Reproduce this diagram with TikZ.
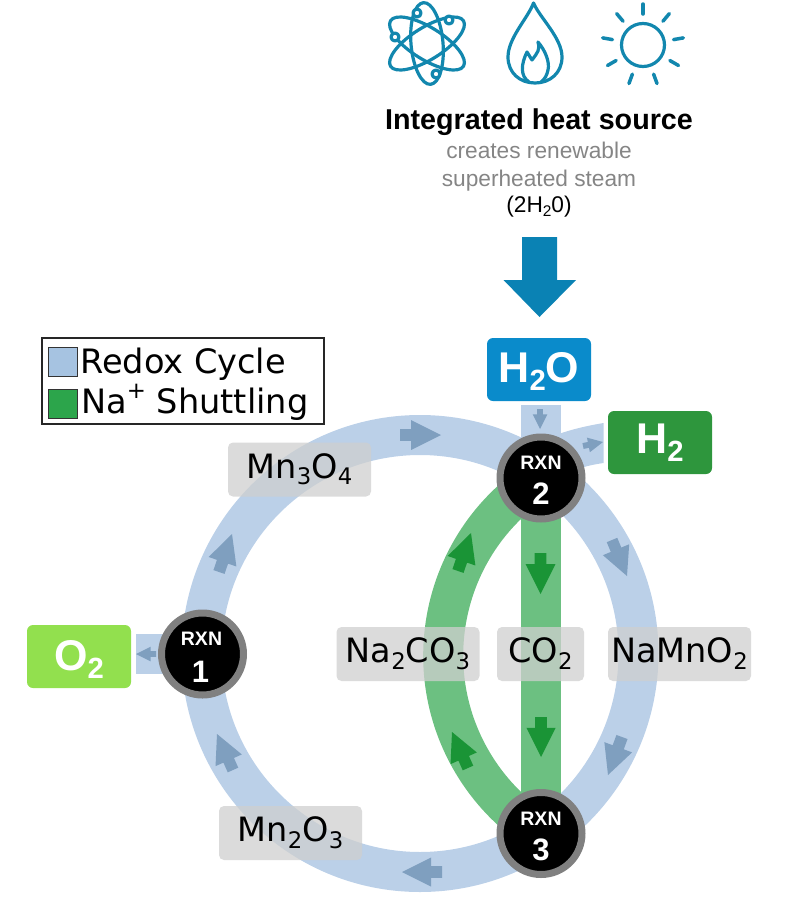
\documentclass[tikz,border=0pt]{standalone}
\usepackage{fontspec}
\setmainfont{Liberation Sans}
\newfontfamily\dejavu{DejaVu Sans}
\usetikzlibrary{calc}
\definecolor{bandblue}{HTML}{BBD0E8}
\definecolor{bandgreen}{HTML}{6CC081}
\definecolor{arrblue}{HTML}{7F9FBF}
\definecolor{arrgreen}{HTML}{1A9436}
\definecolor{icon}{HTML}{1287AE}
\definecolor{bigarrow}{HTML}{0A82B4}
\definecolor{watercol}{HTML}{0A8BCB}
\definecolor{hydrocol}{HTML}{2E963D}
\definecolor{oxycol}{HTML}{92E04E}
\definecolor{lgray}{HTML}{CFCFCF}
\definecolor{swblue}{HTML}{A6C3E1}
\definecolor{swgreen}{HTML}{2CA54B}
\newcommand\dn[1]{\raisebox{-.2em}{\scalebox{.68}{#1}}}
\newcommand\upp[1]{\raisebox{.42em}{\scalebox{.68}{#1}}}
\newcommand\fs[1]{\fontsize{#1}{#1}\selectfont}
% block arrow from tail to tip
\newcommand\blockarrow[3]{%
  \coordinate (ta) at (#1); \coordinate (tb) at (#2);
  \coordinate (tc) at ($(ta)!0.27!(tb)$);
  \fill[#3] ($(ta)!0.146!90:(tb)$) -- ($(tc)!0.2!90:(tb)$) -- ($(tc)!0.5!90:(tb)$) -- (tb)
    -- ($(tc)!0.5!-90:(tb)$) -- ($(tc)!0.2!-90:(tb)$) -- ($(ta)!0.146!-90:(tb)$) -- cycle;}
\tikzset{
  blueband/.style={draw=bandblue,line width=40pt},
  greenband/.style={draw=bandgreen,line width=40pt},
  chem/.style={rounded corners=5pt,fill=lgray,fill opacity=.75,text opacity=1,font=\dejavu\fs{33.5},
    text=black,inner sep=0pt,minimum height=54pt,text height=23pt,text depth=6pt},
  species/.style={rounded corners=6pt,text=white,font=\bfseries\fs{43},inner sep=0pt,
    minimum width=104pt,minimum height=63pt},
  rxn/.style={circle,draw=black!50,fill=black,line width=7pt,minimum size=82pt,inner sep=0pt},
  rxnword/.style={text=white,font=\bfseries\fs{19.5},inner sep=0pt},
  rxnnum/.style={text=white,font=\bfseries\fs{31},inner sep=0pt},
  iconline/.style={draw=icon,line width=3.2pt,line cap=round,line join=round},
  legendtext/.style={font=\dejavu\fs{33.6},anchor=base west,inner sep=0pt},
  swatch/.style={draw=black!80,line width=1.5pt,minimum size=29pt,inner sep=0pt},
  heatgray/.style={text=black!48,font=\fs{22.7},anchor=base,inner sep=0pt},
}
\begin{document}
\begin{tikzpicture}[x=1pt,y=1pt]
\useasboundingbox (0,0) rectangle (790,-900);

\coordinate (ringc) at (420,-653.5);
\coordinate (rxn1c) at (202.5,-654);
\coordinate (rxn2c) at (541,-478);
\coordinate (rxn3c) at (541,-833.5);
\coordinate (h2oc) at (539,-369.5);
\coordinate (h2c) at (660,-442.5);
\coordinate (o2c) at (79,-656.5);

% bands
\draw[blueband] (ringc) circle[radius=218.5pt];
\draw[blueband] (rxn2c) -- (rxn2c |- 0,-405);
\draw[blueband] (rxn1c |- 0,-653.5) -- (136,-653.5);
\fill[bandblue] (535,-445) .. controls (555,-433) and (580,-427) .. (603.5,-423)
  -- (603.5,-463) .. controls (590,-465) and (575,-468) .. (560,-478) -- cycle;
\draw[greenband] (rxn2c) -- (rxn3c);
\draw[greenband] (rxn2c) arc[start angle=122.3,end angle=237.7,radius=210pt];

% flow arrows
\blockarrow{400,-435}{441,-435}{arrblue}
\blockarrow{612,-540}{627,-576}{arrblue}
\blockarrow{622,-737}{608,-775}{arrblue}
\blockarrow{442,-872}{402,-872}{arrblue}
\blockarrow{233,-770}{217,-734}{arrblue}
\blockarrow{219,-572}{232,-534}{arrblue}
\blockarrow{540.5,-553}{540.5,-594}{arrgreen}
\blockarrow{541,-717}{541,-757}{arrgreen}
\blockarrow{458,-571}{471,-533}{arrgreen}
\blockarrow{468,-768}{452,-732}{arrgreen}
\blockarrow{540,-409}{540,-429}{arrblue}
\blockarrow{583,-446}{603,-442}{arrblue}
\blockarrow{156,-654}{136,-654}{arrblue}

% compound labels
\node[chem,minimum width=143pt] (mn3o4) at (299.5,-469.5) {Mn\dn{3}O\dn{4}};
\node[chem,minimum width=143pt] (mn2o3) at (290.5,-833) {Mn\dn{2}O\dn{3}};
\node[chem,minimum width=143pt] (naco) at (408,-654) {Na\dn{2}CO\dn{3}};
\node[chem,minimum width=87pt] (co2) at (540.5,-654) {CO\dn{2}};
\node[chem,minimum width=143pt] (namno) at (679.5,-654) {NaMnO\dn{2}};

% species boxes
\node[species,fill=watercol,text height=32pt,text depth=7pt] (h2o) at (h2oc) {H\dn{2}O};
\node[species,fill=hydrocol,text height=32pt,text depth=11pt] (h2) at (h2c) {H\dn{2}};
\node[species,fill=oxycol,text height=32pt,text depth=5pt] (o2) at (o2c) {O\dn{2}};

% reaction nodes
\node[rxn] (rxn1) at (rxn1c) {};
\node[rxn] (rxn2) at (rxn2c) {};
\node[rxn] (rxn3) at (rxn3c) {};
\node[rxnword] (w1) at ($(rxn1)+(-1,15)$) {RXN};
\node[rxnnum] (n1) at ($(rxn1)+(-2,-18)$) {1};
\node[rxnword] (w2) at ($(rxn2)+(0,15)$) {RXN};
\node[rxnnum] (n2) at ($(rxn2)+(0,-16)$) {2};
\node[rxnword] (w3) at ($(rxn3)+(0,15)$) {RXN};
\node[rxnnum] (n3) at ($(rxn3)+(0,-16)$) {3};

% legend
\node[draw=black!85,line width=1.5pt,minimum width=282pt,minimum height=86pt,inner sep=0pt] (legend) at (183,-381) {};
\node[swatch,fill=swblue] (sw1) at (63,-362) {};
\node[swatch,fill=swgreen] (sw2) at (63,-404) {};
\node[legendtext] (lg1) at (80,-373) {Redox Cycle};
\node[legendtext] (lg2) at (81,-413) {Na\upp{+} Shuttling};

% heat source text
\node[font=\bfseries\fs{28.7},anchor=base,inner sep=0pt] (title) at (539,-129) {Integrated heat source};
\node[heatgray] (t1) at (539,-158) {creates renewable};
\node[heatgray] (t2) at (539,-186) {superheated steam};
\node[font=\fs{22.7},anchor=base,inner sep=0pt] (t3) at (539,-212) {(2H\dn{2}0)};

% big arrow
\fill[bigarrow] (522,-237) -- (557,-237) -- (557,-280) -- (576,-280) -- (539.5,-317) -- (503.5,-280) -- (522,-280) -- cycle;

% atom icon
\begin{scope}[shift={(427,-43.5)}]
  \draw[iconline] (0,0) circle[x radius=41pt,y radius=16pt,rotate=95];
  \draw[iconline] (0,0) circle[x radius=43pt,y radius=16pt,rotate=32];
  \draw[iconline] (0,0) circle[x radius=43pt,y radius=16pt,rotate=-32];
\end{scope}
\draw[iconline,fill=white] (417,-13) circle[radius=4pt];
\draw[iconline,fill=white] (449,-20) circle[radius=4pt];
\draw[iconline,fill=white] (395,-37) circle[radius=4pt];
\draw[iconline,fill=white] (436,-74) circle[radius=4pt];

% flame drop icon
\draw[iconline] (533.5,-3) .. controls (528,-18) and (508,-38) .. (508,-57)
  .. controls (508,-73) and (520,-83) .. (535,-83)
  .. controls (550,-83) and (562,-73) .. (562,-57)
  .. controls (562,-38) and (540,-18) .. (533.5,-3) -- cycle;
\draw[iconline] (529,-82) .. controls (520,-76) and (521,-64) .. (527,-52)
  -- (532,-60) .. controls (538,-52) and (540,-50) .. (538,-42)
  .. controls (545,-50) and (550,-62) .. (548,-70) .. controls (547,-75) and (545,-79) .. (541,-82);

% sun icon
\draw[iconline] (643,-45) circle[radius=21.5pt];
\foreach \a in {90,130,170,210,250,290,330,370,410}
  \draw[iconline,line width=3.5pt] ($(643,-45)+(\a:31pt)$) -- ($(643,-45)+(\a:41pt)$);
\end{tikzpicture}
\end{document}
